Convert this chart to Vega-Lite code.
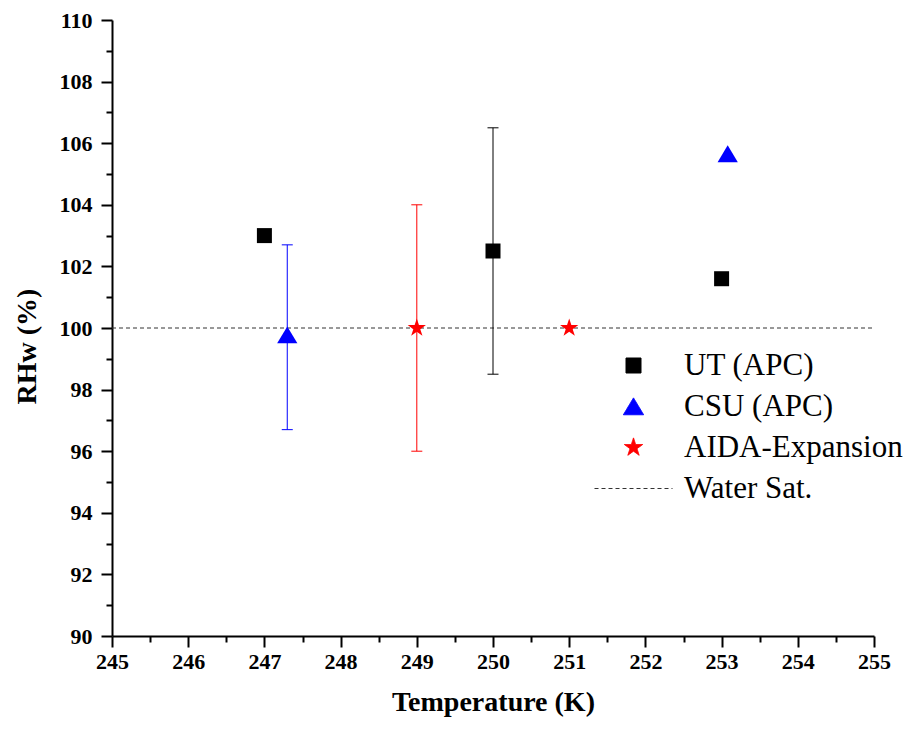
{
  "$schema": "https://vega.github.io/schema/vega-lite/v6.json",
  "width": 762,
  "height": 616,
  "autosize": {"type": "none"},
  "padding": {"left": 112, "top": 20, "right": 33, "bottom": 94},
  "background": "white",
  "config": {"view": {"stroke": null}, "font": "Liberation Serif"},
  "data": {"values": [
    {"series": "UT (APC)", "T": 247, "RH": 103},
    {"series": "UT (APC)", "T": 250, "RH": 102.5, "lo": 98.5, "hi": 106.5},
    {"series": "UT (APC)", "T": 253, "RH": 101.6},
    {"series": "CSU (APC)", "T": 247.3, "RH": 99.77, "lo": 96.7, "hi": 102.7},
    {"series": "CSU (APC)", "T": 253.08, "RH": 105.65},
    {"series": "AIDA-Expansion", "T": 249, "RH": 100, "lo": 96, "hi": 104},
    {"series": "AIDA-Expansion", "T": 251, "RH": 100},
    {"series": "Water Sat.", "T": 245, "RH": 100},
    {"series": "Water Sat.", "T": 255, "RH": 100}
  ]},
  "encoding": {
    "x": {
      "field": "T", "type": "quantitative",
      "scale": {"domain": [245, 255], "nice": false, "zero": false},
      "axis": {
        "title": "Temperature (K)",
        "values": [245, 245.5, 246, 246.5, 247, 247.5, 248, 248.5, 249, 249.5, 250, 250.5, 251, 251.5, 252, 252.5, 253, 253.5, 254, 254.5, 255],
        "labelExpr": "datum.value % 1 === 0 ? format(datum.value, 'd') : ''",
        "tickSize": {"expr": "datum.value % 1 === 0 ? 11 : 6"},
        "tickWidth": 2, "tickColor": "black",
        "domainColor": "black", "domainWidth": 2,
        "grid": false,
        "labelFont": "Liberation Serif", "labelFontWeight": "bold", "labelFontSize": 22, "labelColor": "black",
        "labelPadding": 4, "labelFlush": false, "labelOverlap": false,
        "titleFont": "Liberation Serif", "titleFontWeight": "bold", "titleFontSize": 28, "titleColor": "black",
        "titlePadding": 16
      }
    },
    "y": {
      "field": "RH", "type": "quantitative",
      "scale": {"domain": [90, 110], "nice": false, "zero": false},
      "axis": {
        "title": "RHw (%)",
        "values": [90, 91, 92, 93, 94, 95, 96, 97, 98, 99, 100, 101, 102, 103, 104, 105, 106, 107, 108, 109, 110],
        "labelExpr": "datum.value % 2 === 0 ? format(datum.value, 'd') : ''",
        "tickSize": {"expr": "datum.value % 2 === 0 ? 11 : 6"},
        "tickWidth": 2, "tickColor": "black",
        "domainColor": "black", "domainWidth": 2,
        "grid": false,
        "labelFont": "Liberation Serif", "labelFontWeight": "bold", "labelFontSize": 22, "labelColor": "black",
        "labelPadding": 9, "labelFlush": false, "labelOverlap": false,
        "titleFont": "Liberation Serif", "titleFontWeight": "bold", "titleFontSize": 28, "titleColor": "black",
        "titlePadding": 18, "titleY": 326
      }
    },
    "color": {
      "field": "series", "type": "nominal",
      "scale": {
        "domain": ["UT (APC)", "CSU (APC)", "AIDA-Expansion", "Water Sat."],
        "range": ["#000000", "#0000ff", "#ff0000", "#333333"]
      },
      "legend": {
        "title": null,
        "orient": "none",
        "legendX": 506,
        "legendY": 330,
        "padding": 0,
        "symbolSize": 225,
        "labelFont": "Liberation Serif",
        "labelFontSize": 31,
        "labelColor": "black",
        "labelLimit": 400,
        "labelOffset": 35,
        "rowPadding": 9,
        "encode": {
          "symbols": {
            "update": {
              "stroke": [{"test": "datum.value === 'Water Sat.'", "value": "#333333"}, {"value": "transparent"}],
              "strokeDash": [{"test": "datum.value === 'Water Sat.'", "value": [4, 3]}, {"value": [1, 0]}],
              "strokeWidth": {"value": 1},
              "opacity": {"value": 1}
            }
          }
        }
      }
    }
  },
  "layer": [
    {
      "transform": [{"filter": "datum.series === 'Water Sat.'"}],
      "mark": {"type": "line", "strokeDash": [4, 3], "strokeWidth": 1}
    },
    {
      "transform": [{"filter": "isValid(datum.lo)"}],
      "mark": {"type": "rule", "strokeWidth": 1},
      "encoding": {
        "y": {
          "field": "lo", "type": "quantitative",
          "scale": {"domain": [90, 110], "nice": false, "zero": false},
          "axis": {
            "title": "RHw (%)",
            "values": [90, 91, 92, 93, 94, 95, 96, 97, 98, 99, 100, 101, 102, 103, 104, 105, 106, 107, 108, 109, 110],
            "labelExpr": "datum.value % 2 === 0 ? format(datum.value, 'd') : ''",
            "tickSize": {"expr": "datum.value % 2 === 0 ? 11 : 6"},
            "tickWidth": 2, "tickColor": "black",
            "domainColor": "black", "domainWidth": 2,
            "grid": false,
            "labelFont": "Liberation Serif", "labelFontWeight": "bold", "labelFontSize": 22, "labelColor": "black",
            "labelPadding": 9, "labelFlush": false, "labelOverlap": false,
            "titleFont": "Liberation Serif", "titleFontWeight": "bold", "titleFontSize": 28, "titleColor": "black",
            "titlePadding": 18, "titleY": 326
          }
        },
        "y2": {"field": "hi"}
      }
    },
    {
      "transform": [{"filter": "isValid(datum.lo)"}],
      "mark": {"type": "tick", "orient": "horizontal", "size": 11, "thickness": 1, "opacity": 1},
      "encoding": {
        "y": {
          "field": "lo", "type": "quantitative",
          "scale": {"domain": [90, 110], "nice": false, "zero": false},
          "axis": {
            "title": "RHw (%)",
            "values": [90, 91, 92, 93, 94, 95, 96, 97, 98, 99, 100, 101, 102, 103, 104, 105, 106, 107, 108, 109, 110],
            "labelExpr": "datum.value % 2 === 0 ? format(datum.value, 'd') : ''",
            "tickSize": {"expr": "datum.value % 2 === 0 ? 11 : 6"},
            "tickWidth": 2, "tickColor": "black",
            "domainColor": "black", "domainWidth": 2,
            "grid": false,
            "labelFont": "Liberation Serif", "labelFontWeight": "bold", "labelFontSize": 22, "labelColor": "black",
            "labelPadding": 9, "labelFlush": false, "labelOverlap": false,
            "titleFont": "Liberation Serif", "titleFontWeight": "bold", "titleFontSize": 28, "titleColor": "black",
            "titlePadding": 18, "titleY": 326
          }
        }
      }
    },
    {
      "transform": [{"filter": "isValid(datum.hi)"}],
      "mark": {"type": "tick", "orient": "horizontal", "size": 11, "thickness": 1, "opacity": 1},
      "encoding": {
        "y": {
          "field": "hi", "type": "quantitative",
          "scale": {"domain": [90, 110], "nice": false, "zero": false},
          "axis": {
            "title": "RHw (%)",
            "values": [90, 91, 92, 93, 94, 95, 96, 97, 98, 99, 100, 101, 102, 103, 104, 105, 106, 107, 108, 109, 110],
            "labelExpr": "datum.value % 2 === 0 ? format(datum.value, 'd') : ''",
            "tickSize": {"expr": "datum.value % 2 === 0 ? 11 : 6"},
            "tickWidth": 2, "tickColor": "black",
            "domainColor": "black", "domainWidth": 2,
            "grid": false,
            "labelFont": "Liberation Serif", "labelFontWeight": "bold", "labelFontSize": 22, "labelColor": "black",
            "labelPadding": 9, "labelFlush": false, "labelOverlap": false,
            "titleFont": "Liberation Serif", "titleFontWeight": "bold", "titleFontSize": 28, "titleColor": "black",
            "titlePadding": 18, "titleY": 326
          }
        }
      }
    },
    {
      "transform": [{"filter": "datum.series !== 'Water Sat.'"}],
      "mark": {"type": "point", "filled": true, "size": 225, "opacity": 1},
      "encoding": {
        "shape": {
          "field": "series", "type": "nominal",
          "scale": {
            "domain": ["UT (APC)", "CSU (APC)", "AIDA-Expansion", "Water Sat."],
            "range": [
              "square",
              "M0,-1.15L1.35,1.1L-1.35,1.1Z",
              "M0,-1.28L0.287,-0.396L1.217,-0.396L0.465,0.151L0.753,1.036L0,0.489L-0.753,1.036L-0.465,0.151L-1.217,-0.396L-0.287,-0.396Z",
              "M-5.2,0L5.2,0"
            ]
          },
          "legend": {"title": null}
        }
      }
    }
  ]
}
